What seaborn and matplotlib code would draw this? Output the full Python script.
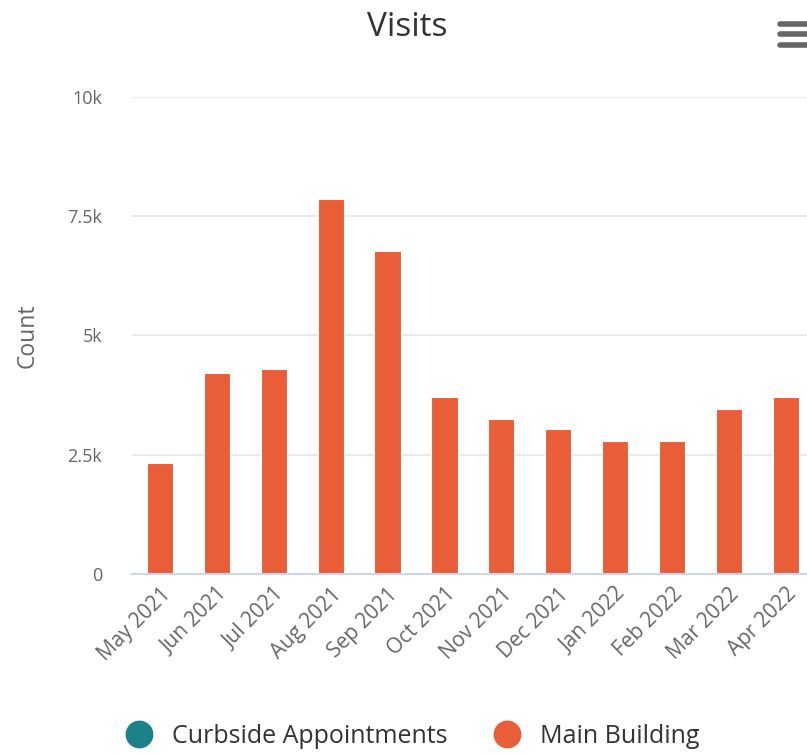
import matplotlib
matplotlib.use("Agg")
import matplotlib.pyplot as plt
from matplotlib.lines import Line2D
import seaborn as sns
import pandas as pd

months = ["May 2021", "Jun 2021", "Jul 2021", "Aug 2021", "Sep 2021", "Oct 2021",
          "Nov 2021", "Dec 2021", "Jan 2022", "Feb 2022", "Mar 2022", "Apr 2022"]
main_building = [2320, 4210, 4290, 7860, 6770, 3700, 3240, 3030, 2780, 2780, 3450, 3700]
series_names = ["Curbside Appointments", "Main Building"]
series_colors = ["#1b8289", "#e95e38"]
y_ticks = [0, 2500, 5000, 7500, 10000]
y_labels = ["0", "2.5k", "5k", "7.5k", "10k"]

df = pd.DataFrame({"month": months, "count": main_building})

sns.set_style("white")
plt.rcParams["font.family"] = ["Open Sans", "DejaVu Sans"]

fig = plt.figure(figsize=(8.07, 7.55), dpi=100)
ax = fig.add_axes([0.163, 0.2397, 0.846, 0.632])

sns.barplot(data=df, x="month", y="count", color=series_colors[1], width=0.46,
            saturation=1, edgecolor="white", linewidth=0.8, ax=ax)

ax.set_ylim(0, 10000)
ax.set_xlim(-0.5, 11.5)
ax.set_yticks(y_ticks)
ax.set_yticklabels(y_labels, fontsize=13, color="#666666")
ax.yaxis.grid(True, color="#e6e6e6", linewidth=1.2)
ax.set_axisbelow(True)
ax.tick_params(axis="y", length=0, pad=21)
ax.tick_params(axis="x", length=0, pad=7)
plt.setp(ax.get_xticklabels(), rotation=45, ha="right", rotation_mode="anchor",
         fontsize=15, color="#666666")
for s in ["top", "right", "left"]:
    ax.spines[s].set_visible(False)
ax.spines["bottom"].set_color("#ccd6eb")
ax.spines["bottom"].set_linewidth(1.5)
ax.set_xlabel("")
ax.set_ylabel("Count", fontsize=16.5, color="#666666", labelpad=20)

fig.text(0.505, 0.964, "Visits", ha="center", va="center", fontsize=24, color="#333333")

# menu icon
for yy in [0.968, 0.955, 0.941]:
    fig.add_artist(Line2D([0.967, 1.0], [yy, yy], color="#666666", linewidth=4,
                          solid_capstyle="round"))

handles = [Line2D([0], [0], marker="o", linestyle="", markersize=19,
                  markerfacecolor=c, markeredgecolor=c) for c in series_colors]
fig.legend(handles, series_names, loc="center", bbox_to_anchor=(0.504, 0.025), ncol=2,
           frameon=False, fontsize=18, handletextpad=0.3, columnspacing=1.4,
           labelcolor="#333333")

fig.savefig("out.png", dpi=100)
